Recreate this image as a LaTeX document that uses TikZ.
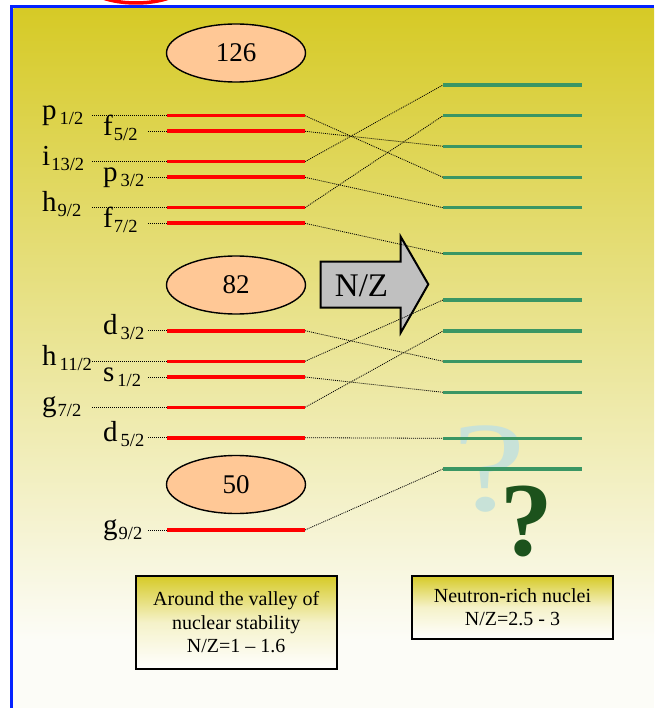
\documentclass[tikz,border=0pt]{standalone}
\usepackage{fontspec}
\setmainfont{Liberation Serif}
\usetikzlibrary{shapes.geometric}

\definecolor{bgtop}{RGB}{214,202,38}
\definecolor{bgbot}{RGB}{252,252,247}
\definecolor{frameblue}{RGB}{5,35,255}
\definecolor{levelred}{RGB}{255,0,0}
\definecolor{levelgreen}{RGB}{58,150,100}
\definecolor{magicfill}{RGB}{255,200,150}
\definecolor{arrowgray}{RGB}{192,192,192}
\definecolor{qlight}{RGB}{200,226,216}
\definecolor{qdark}{RGB}{28,82,28}

% orbital label: letter with lowered j-subscript
\newcommand\orb[3][1pt]{{\fontsize{29}{29}\selectfont #2}\kern#1\raisebox{-5pt}{\fontsize{18.5}{18.5}\selectfont #3}}

\begin{document}
\begin{tikzpicture}[x=1pt,y=-1pt,
  redlevel/.style={draw=levelred, line width=3.6pt},
  greenlevel/.style={draw=levelgreen, line width=3.2pt},
  link/.style={draw=black, line width=0.8pt, dash pattern=on 1pt off 1pt},
  orbital/.style={anchor=base west, inner sep=0pt},
  magic/.style={ellipse, draw, line width=1.4pt, fill=magicfill,
    minimum width=139pt, minimum height=58pt, inner sep=0pt,
    font=\fontsize{27}{27}\selectfont},
  infobox/.style={draw, line width=2.2pt, top color=bgtop, bottom color=white,
    middle color=bgtop!25!white, align=center, inner sep=0pt,
    font=\fontsize{20}{23.5}\selectfont},
]
\useasboundingbox (0,0) rectangle (654,708);

% background and frame
\shade[top color=bgtop, bottom color=bgbot] (13.4,8.5) rectangle (654,640);
\fill[bgbot] (13.4,639) rectangle (654,708);
\begin{scope}
  \clip (0,0) rectangle (654,6);
  \draw[levelred, line width=3.5pt] (136,-21) ellipse [x radius=54, y radius=24];
\end{scope}
\draw[frameblue, line width=3.4pt] (11.7,708) -- (11.7,6.8) -- (654,6.8);

% magic numbers
\node[magic] (m126) at (236,53) {126};
\node[magic] (m82) at (236,285) {82};
\node[magic] (m50) at (236,484.5) {50};

% N/Z arrow
\draw[line width=2pt, fill=arrowgray, line join=miter]
  (320.7,261.7) -- (400.7,261.7) -- (400.7,236.7) -- (428.3,284.3)
  -- (400.7,332.7) -- (400.7,307.7) -- (320.7,307.7) -- cycle;
\node[font=\fontsize{33}{33}\selectfont, inner sep=0pt] (nz) at (361.5,285.5) {N/Z};

% faint question mark behind the levels
\node[anchor=base, inner sep=0pt, text=qlight, font=\fontsize{128}{128}\selectfont] (qa) at (489,510) {\scalebox{1.3}[1]{?}};

% level end points: left side (stable nuclei)
\foreach \n/\y in {p12/115.7, f52/131.3, i132/161.7, p32/177.3, h92/207.7, f72/223.3,
                   d32/330.7, h112/361.3, s12/377, g72/407.3, d52/437.7, g92/530} {
  \coordinate (\n-a) at (167,\y);
  \coordinate (\n-b) at (305,\y);
}
% level end points: right side (neutron-rich nuclei)
\foreach \i/\y in {1/85, 2/115.7, 3/146.3, 4/177.3, 5/207.7, 6/253.7,
                   7/300, 8/331, 9/361.3, 10/392.3, 11/438.3, 12/469} {
  \coordinate (g\i-a) at (443,\y);
  \coordinate (g\i-b) at (582,\y);
}
% leader starts
\foreach \n/\y in {p12/115.7, i132/161.7, h92/207.7, h112/361.3, g72/407.3}
  \coordinate (\n-t) at (92,\y);
\foreach \n/\y in {f52/131.3, p32/177.3, f72/223.3, d32/330.7, s12/377, d52/437.7, g92/530}
  \coordinate (\n-t) at (148,\y);

% orbital labels
\node[orbital] (lp12)  at (42,119.7)  {\orb[3pt]{p}{1/2}};
\node[orbital] (li132) at (42,165.7)  {\orb{i}{13/2}};
\node[orbital] (lh92)  at (42,211.7)  {\orb{h}{9/2}};
\node[orbital] (lh112) at (42,365.3)  {\orb[3pt]{h}{11/2}};
\node[orbital] (lg72)  at (42,411.3)  {\orb{g}{7/2}};
\node[orbital] (lf52)  at (103,135.3) {\orb{f}{5/2}};
\node[orbital] (lp32)  at (103,181.3) {\orb[3pt]{p}{3/2}};
\node[orbital] (lf72)  at (103,227.3) {\orb{f}{7/2}};
\node[orbital] (ld32)  at (103,334.7) {\orb[3pt]{d}{3/2}};
\node[orbital] (ls12)  at (103,381)   {\orb[3pt]{s}{1/2}};
\node[orbital] (ld52)  at (103,441.7) {\orb[3pt]{d}{5/2}};
\node[orbital] (lg92)  at (103,534)   {\orb{g}{9/2}};

% leaders from labels to levels
\foreach \n in {p12,i132,h92,h112,g72,f52,p32,f72,d32,s12,d52,g92}
  \draw[link] (\n-t) -- (\n-a);

% correspondence between the two level schemes
\draw[link] (p12-b)  -- (g4-a);
\draw[link] (f52-b)  -- (g3-a);
\draw[link] (i132-b) -- (g1-a);
\draw[link] (p32-b)  -- (g5-a);
\draw[link] (h92-b)  -- (g2-a);
\draw[link] (f72-b)  -- (g6-a);
\draw[link] (d32-b)  -- (g9-a);
\draw[link] (h112-b) -- (g7-a);
\draw[link] (s12-b)  -- (g10-a);
\draw[link] (g72-b)  -- (g8-a);
\draw[link] (d52-b)  -- (g11-a);
\draw[link] (g92-b)  -- (g12-a);

% levels
\foreach \n in {p12,f52,i132,p32,h92,f72,d32,h112,s12,g72,d52,g92}
  \draw[redlevel] (\n-a) -- (\n-b);
\foreach \i in {1,...,12}
  \draw[greenlevel] (g\i-a) -- (g\i-b);

% bold question mark
\node[anchor=base, inner sep=0pt, text=qdark, font=\fontsize{105}{105}\selectfont\bfseries] (qb) at (527,555) {?};

% captions
\node[infobox, minimum width=201pt, minimum height=93.3pt] (stable) at (236.2,622.3)
  {Around the valley of\\nuclear stability\\N/Z=1 -- 1.6};
\node[infobox, minimum width=200.4pt, minimum height=63pt] (rich) at (512.5,607.2)
  {Neutron-rich nuclei\\N/Z=2.5 - 3};
\end{tikzpicture}
\end{document}
